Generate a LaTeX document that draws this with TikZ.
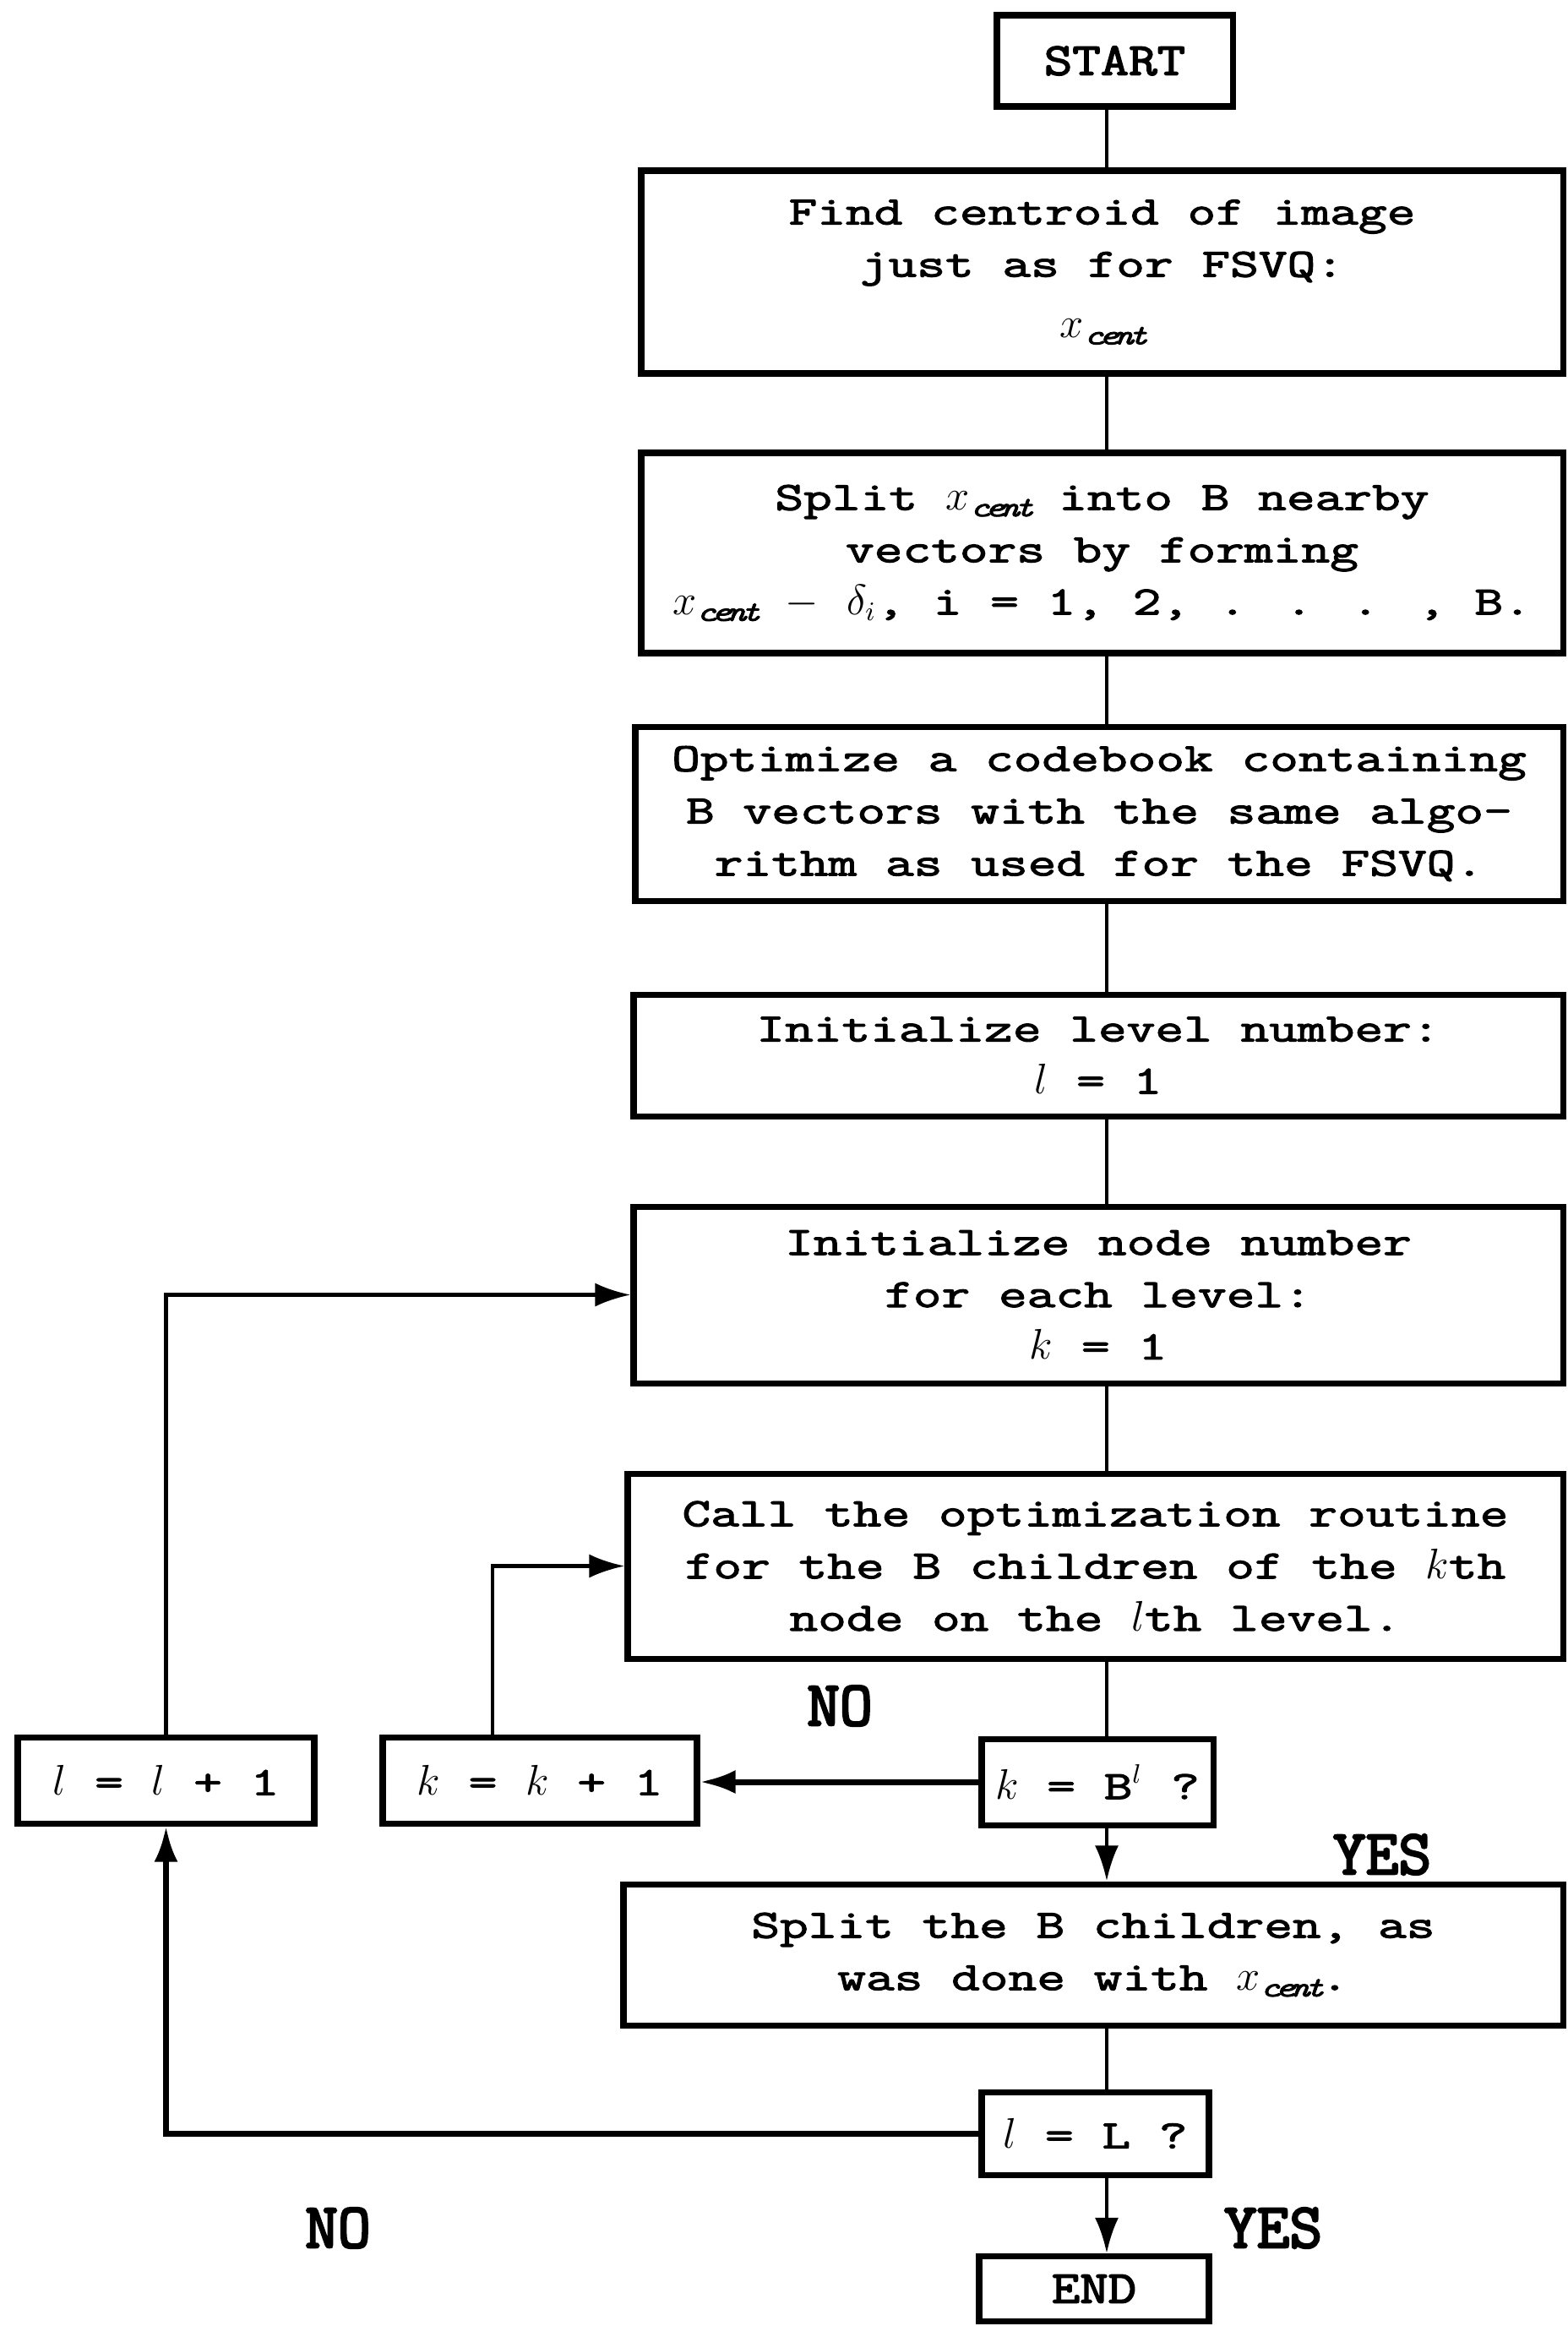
\documentclass[tikz,border=0pt]{standalone}
\usepackage{fontspec}
\setmainfont{Latin Modern Mono}[FakeStretch=1.38,FakeBold=2.5]
\newfontfamily\tagfont{Latin Modern Mono}[FakeBold=3.5]
\newfontfamily\termfont{Latin Modern Mono}[FakeStretch=1.2,FakeBold=3]
\usetikzlibrary{arrows.meta}

\newcommand{\xcent}{x_{\mathit{cent}}}

\begin{document}
\begin{tikzpicture}[
  every node/.style={font=\fontsize{13.5}{17.6}\selectfont},
  box/.style={draw, line width=2pt, align=center, inner sep=2pt},
  term/.style={box, font=\termfont\fontsize{15.4}{18}\selectfont},
  tag/.style={font=\tagfont\fontsize{21.4}{22}\selectfont},
  flow/.style={line width=1.3pt},
  arr/.style={flow, -{Latex[length=12pt,width=8pt]}},
]
\useasboundingbox (0,0) rectangle (18.56,-27.53);

% main column
\coordinate (spine) at (13.1,0);
\coordinate (kloop) at (5.83,0);

\node[term, minimum width=2.79cm, minimum height=1.08cm] (start) at (13.195,-0.72) {START};

\node[box, minimum width=10.91cm, minimum height=2.40cm] (find) at (13.045,-3.22)
  {Find centroid of image\\just as for FSVQ:\\[3pt]$\xcent$};

\node[box, minimum width=10.91cm, minimum height=2.37cm] (splitc) at (13.045,-6.545)
  {Split $\xcent$ into B nearby\\vectors by forming\\$\xcent$ $-$ $\delta_{i}$, i = 1, 2, . . . , B.};

\node[box, minimum width=10.98cm, minimum height=2.06cm] (optim) at (13.01,-9.63)
  {Optimize a codebook containing\\B vectors with the same algo-\\rithm as used for the FSVQ.};

\node[box, minimum width=11.0cm, minimum height=1.44cm] (initl) at (13.0,-12.49)
  {Initialize level number:\\$l$ = 1};

\node[box, minimum width=11.0cm, minimum height=2.09cm] (initk) at (13.0,-15.325)
  {Initialize node number\\for each level:\\$k$ = 1};

\node[box, minimum width=11.07cm, minimum height=2.19cm] (call) at (12.965,-18.535)
  {Call the optimization routine\\for the B children of the $k$th\\node on the $l$th level.};

% tests and counters
\node[box, minimum width=2.74cm, minimum height=1.02cm] (testk) at (12.99,-21.09) {$k$ = B$^{l}$ ?};
\node[box, minimum width=3.72cm, minimum height=1.02cm] (nextk) at (6.39,-21.07) {$k$ = $k$ + 1};
\node[box, minimum width=3.51cm, minimum height=1.02cm] (nextl) at (1.965,-21.07) {$l$ = $l$ + 1};

\node[box, minimum width=11.12cm, minimum height=1.67cm] (splitb) at (12.94,-23.135)
  {Split the B children, as\\was done with $\xcent$.};

\node[box, minimum width=2.69cm, minimum height=0.98cm] (testl) at (12.965,-25.25) {$l$ = L ?};

\node[term, minimum width=2.72cm, minimum height=0.77cm] (stop) at (12.95,-27.09) {END};

% answers
\node[tag] (no1) at (9.94,-20.19) {NO};
\node[tag] (yes1) at (16.36,-21.95) {YES};
\node[tag] (no2) at (4.0,-26.37) {NO};
\node[tag] (yes2) at (15.07,-26.37) {YES};

% straight links
\foreach \a/\b in {start/find, find/splitc, splitc/optim, optim/initl, initl/initk, initk/call, call/testk, splitb/testl}
  \draw[flow] (\a.south -| spine) -- (\b.north -| spine);
\draw[arr] (testk.south -| spine) -- (splitb.north -| spine);
\draw[arr] (testl.south -| spine) -- (stop.north -| spine);

% loops
\draw[arr, line width=2pt] (testk.west) -- (testk.west -| nextk.east);
\draw[arr] (nextk.north -| kloop) |- (call.west);
\draw[arr] (nextl.north) |- (initk.west);
\draw[arr, line width=2pt] (testl.west) -| (nextl.south);

\end{tikzpicture}
\end{document}
